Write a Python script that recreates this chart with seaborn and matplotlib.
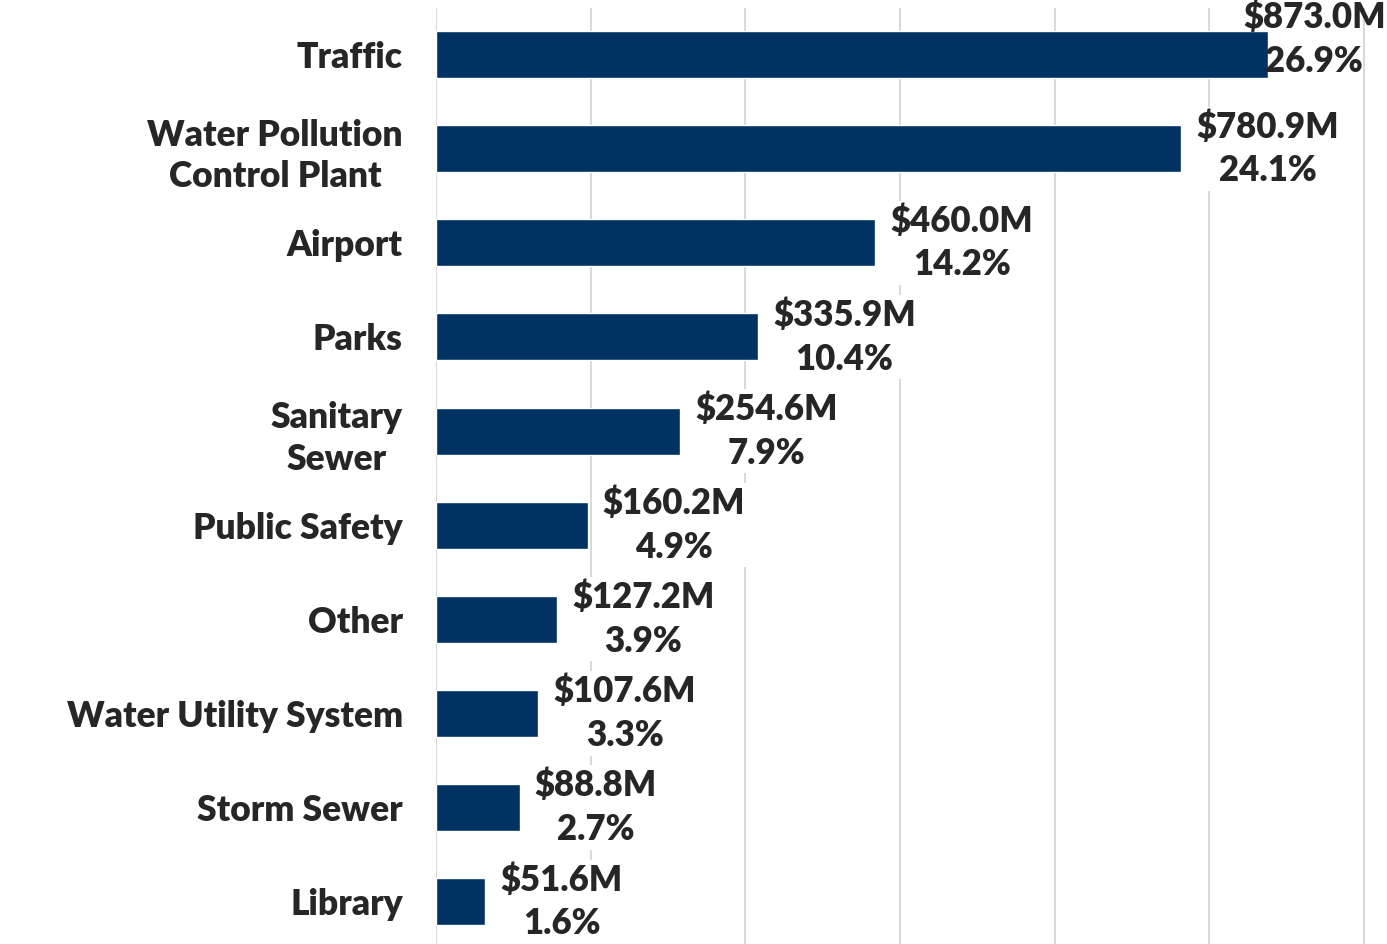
"""Capital program by category: horizontal bar chart with $ and % labels."""

import matplotlib
matplotlib.use("Agg")
import matplotlib.pyplot as plt
import pandas as pd
import seaborn as sns

categories = [
    "Traffic",
    "Water Pollution\nControl Plant",
    "Airport",
    "Parks",
    "Sanitary\nSewer",
    "Public Safety",
    "Other",
    "Water Utility System",
    "Storm Sewer",
    "Library",
]
amounts_m = [873.0, 780.9, 460.0, 335.9, 254.6, 160.2, 127.2, 107.6, 88.8, 51.6]
shares_pct = [26.9, 24.1, 14.2, 10.4, 7.9, 4.9, 3.9, 3.3, 2.7, 1.6]
grid_ticks = [0, 5, 10, 15, 20, 25, 30]

BAR_COLOR = "#003263"
GRID_COLOR = "#d9d9d9"
FONT = ["Lato", "DejaVu Sans"]

df = pd.DataFrame({"category": categories, "amount": amounts_m, "share": shares_pct})

sns.set_theme(style="white")
plt.rcParams["font.family"] = FONT

fig = plt.figure(figsize=(13.87, 9.44), dpi=100)
ax = fig.add_axes([436 / 1387, -0.005, 951 / 1387, 0.997])

sns.barplot(data=df, y="category", x="share", color=BAR_COLOR, width=0.5,
            saturation=1, orient="h", ax=ax, zorder=3)

ax.set_xlim(0, 30.75)
ax.set_xticks(grid_ticks)
ax.xaxis.grid(True, color=GRID_COLOR, linewidth=1.5, zorder=0)
ax.set_axisbelow(True)
ax.tick_params(axis="x", labelbottom=False, length=0)
ax.tick_params(axis="y", length=0, pad=24)
ax.set_xlabel("")
ax.set_ylabel("")
for s in ax.spines.values():
    s.set_visible(False)

for lbl in ax.get_yticklabels():
    lbl.set_fontsize(25.5)
    lbl.set_fontweight("heavy")
    lbl.set_multialignment("center")
    lbl.set_linespacing(1.32)

for i, (amt, pct) in enumerate(zip(amounts_m, shares_pct)):
    text = f"${amt:.1f}M\n{pct:.1f}%"
    style = dict(ha="left", va="center", multialignment="center", fontsize=25,
                 fontweight="heavy", linespacing=1.4, zorder=4,
                 bbox=dict(boxstyle="square,pad=0.1", fc="white", ec="none"))
    if i == 0:
        # longest bar: keep its label inside the right edge
        style.update(ha="right", bbox=None)
        ax.annotate(text, xy=(1.0, i), xycoords=("axes fraction", "data"),
                    xytext=(-1, 11), textcoords="offset points", **style)
    else:
        ax.annotate(text, xy=(pct, i), xytext=(11, 0),
                    textcoords="offset points", **style)

fig.savefig("out.png", dpi=100)
